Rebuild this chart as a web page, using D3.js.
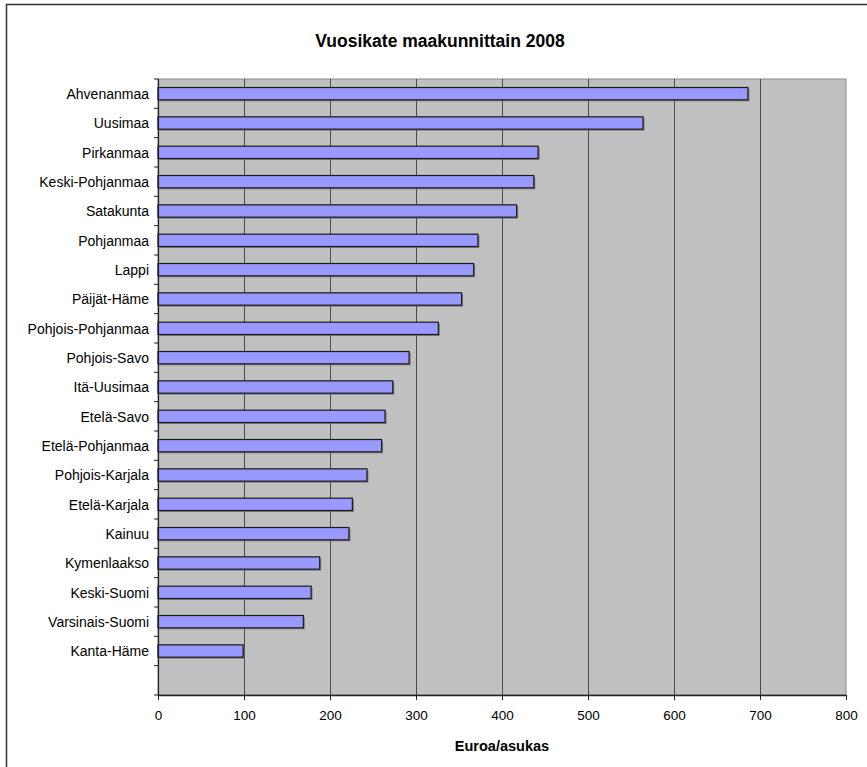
<!DOCTYPE html>
<html>
<head>
<meta charset="utf-8">
<script src="https://cdn.jsdelivr.net/npm/d3@7"></script>
<style>
  html, body { margin: 0; padding: 0; background: #fff; }
  svg { display: block; font-family: "Liberation Sans", Arial, sans-serif; }
</style>
</head>
<body>
<svg id="chart" width="867" height="767"></svg>
<script>
// Regions, top to bottom (last slot is an empty category row)
const regions = [
  "Ahvenanmaa", "Uusimaa", "Pirkanmaa", "Keski-Pohjanmaa", "Satakunta",
  "Pohjanmaa", "Lappi", "Päijät-Häme", "Pohjois-Pohjanmaa", "Pohjois-Savo",
  "Itä-Uusimaa", "Etelä-Savo", "Etelä-Pohjanmaa", "Pohjois-Karjala",
  "Etelä-Karjala", "Kainuu", "Kymenlaakso", "Keski-Suomi",
  "Varsinais-Suomi", "Kanta-Häme", ""
];
// Vuosikate, euroa/asukas
const values = [
  686, 564, 442, 437, 417,
  372, 367, 353, 326, 292,
  273, 264, 260, 243,
  226, 222, 188, 178,
  169, 99, null
];
const xTicks = [0, 100, 200, 300, 400, 500, 600, 700, 800];
const titleText = "Vuosikate maakunnittain 2008";
const xTitle = "Euroa/asukas";

const svg = d3.select("#chart");
const plot = { left: 158, top: 79, right: 846, bottom: 695 };

// outer frame (right and bottom edges fall outside the view)
svg.append("rect")
  .attr("x", 6.5).attr("y", 4.5)
  .attr("width", 1000).attr("height", 1000)
  .attr("fill", "none").attr("stroke", "#333").attr("stroke-width", 1.5);

const x = d3.scaleLinear().domain([0, 800]).range([plot.left, plot.right]);
const y = d3.scaleBand().domain(d3.range(regions.length))
  .range([plot.top, plot.bottom]).paddingInner(0.58).paddingOuter(0.29);
const yb = d3.scaleBand().domain(d3.range(regions.length))
  .range([plot.top, plot.bottom]);

// plot background
svg.append("rect")
  .attr("x", plot.left).attr("y", plot.top)
  .attr("width", plot.right - plot.left).attr("height", plot.bottom - plot.top)
  .attr("fill", "#c0c0c0").attr("stroke", "#8a8a8a").attr("stroke-width", 1);

// vertical gridlines
svg.append("g").selectAll("line")
  .data(xTicks.filter(t => t > 0 && t < 800))
  .join("line")
  .attr("x1", d => Math.round(x(d)) + 0.5).attr("x2", d => Math.round(x(d)) + 0.5)
  .attr("y1", plot.top).attr("y2", plot.bottom)
  .attr("stroke", "#4a4a4a").attr("stroke-width", 1);

// bars with a soft drop shadow
const rows = regions.map((r, i) => ({ r, v: values[i], i })).filter(d => d.v != null);
const bars = svg.append("g");
bars.selectAll("rect.shadow")
  .data(rows).join("rect").attr("class", "shadow")
  .attr("x", x(0) + 1.5).attr("y", d => y(d.i) + 1.5)
  .attr("width", d => x(d.v) - x(0)).attr("height", y.bandwidth())
  .attr("fill", "#6a6a6a").attr("opacity", 0.8);
bars.selectAll("rect.bar")
  .data(rows).join("rect").attr("class", "bar")
  .attr("x", x(0)).attr("y", d => y(d.i))
  .attr("width", d => x(d.v) - x(0)).attr("height", y.bandwidth())
  .attr("fill", "#9999ff").attr("stroke", "#1a1a1a").attr("stroke-width", 1.2);

// y axis: line, ticks at band boundaries, labels
const yAxis = svg.append("g");
yAxis.append("line")
  .attr("x1", plot.left + 0.5).attr("x2", plot.left + 0.5)
  .attr("y1", plot.top).attr("y2", plot.bottom)
  .attr("stroke", "#222").attr("stroke-width", 1.2);
yAxis.selectAll("line.tick")
  .data(d3.range(regions.length + 1)).join("line").attr("class", "tick")
  .attr("x1", plot.left - 4).attr("x2", plot.left)
  .attr("y1", i => plot.top + i * yb.step()).attr("y2", i => plot.top + i * yb.step())
  .attr("stroke", "#222").attr("stroke-width", 1);
yAxis.selectAll("text")
  .data(regions.map((r, i) => ({ r, i })).filter(d => d.r))
  .join("text")
  .attr("x", plot.left - 9)
  .attr("y", d => yb(d.i) + yb.bandwidth() / 2 + 0.5)
  .attr("dy", "0.35em")
  .attr("text-anchor", "end")
  .attr("font-size", 14).attr("fill", "#000")
  .text(d => d.r);

// x axis
const xAxis = svg.append("g").attr("transform", `translate(0,${plot.bottom})`)
  .call(d3.axisBottom(x).tickValues(xTicks).tickSize(5).tickSizeOuter(0).tickPadding(10));
xAxis.select(".domain").attr("stroke", "#222").attr("stroke-width", 1.5);
xAxis.selectAll(".tick line").attr("stroke", "#222");
xAxis.selectAll(".tick text")
  .attr("font-size", 13.5).attr("fill", "#000")
  .attr("font-family", "\"Liberation Sans\", Arial, sans-serif");

// titles
svg.append("text")
  .attr("x", 440).attr("y", 47)
  .attr("text-anchor", "middle")
  .attr("font-size", 17.5).attr("font-weight", "bold")
  .text(titleText);
svg.append("text")
  .attr("x", (plot.left + plot.right) / 2).attr("y", 751)
  .attr("text-anchor", "middle")
  .attr("font-size", 14.5).attr("font-weight", "bold")
  .text(xTitle);
</script>
</body>
</html>
